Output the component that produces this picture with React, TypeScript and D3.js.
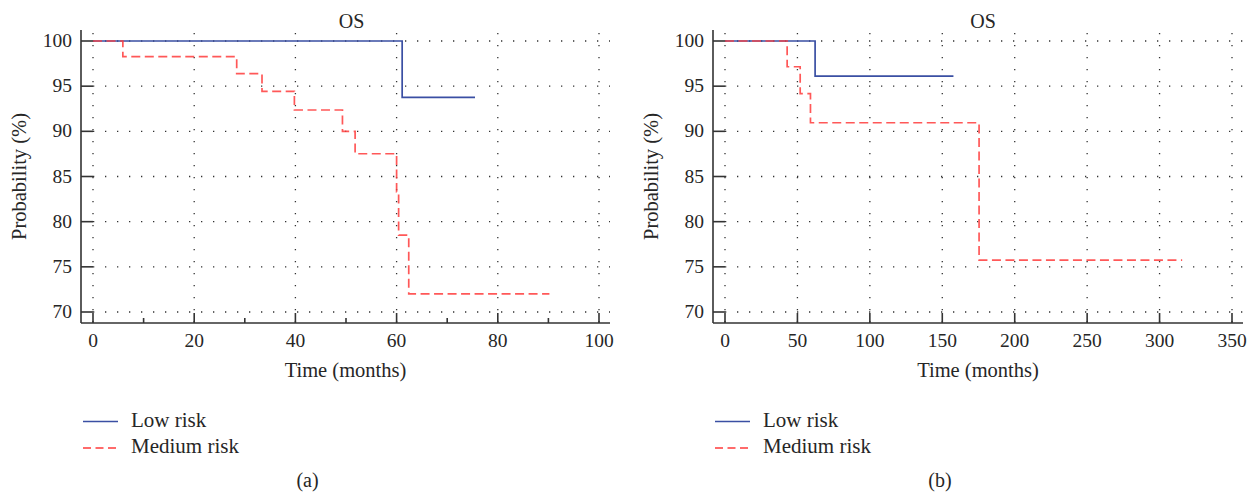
import React from "react";
import * as d3 from "d3";

// Panel (a)
const aLowTimes = [0, 61.1, 75.5];
const aLowValues = [100, 93.75, 93.75];
const aMedTimes = [0, 5.9, 28.4, 33.4, 39.8, 49.3, 51.8, 60.0, 60.4, 62.4, 90.2];
const aMedValues = [100, 98.26, 96.38, 94.43, 92.36, 90.0, 87.52, 83.3, 78.5, 72.0, 72.0];
const aXTicks = [0, 20, 40, 60, 80, 100];
const aXMinor = [10, 30, 50, 70, 90];

// Panel (b)
const bLowTimes = [0, 62.2, 157.7];
const bLowValues = [100, 96.12, 96.12];
const bMedTimes = [0, 42.9, 51.9, 59.0, 175.4, 315.6];
const bMedValues = [100, 97.15, 94.17, 90.95, 75.75, 75.75];
const bXTicks = [0, 50, 100, 150, 200, 250, 300, 350];
const bXMinor: number[] = [];

const yTicks = [70, 75, 80, 85, 90, 95, 100];
const seriesNames = ["Low risk", "Medium risk"];
const title = "OS";
const xLabel = "Time (months)";
const yLabel = "Probability (%)";

const FONT = "'Liberation Serif', 'Times New Roman', serif";
const BLUE = "#3a4fa3";
const RED = "#ff3b3b";
const INK = "#262626";

type PanelProps = {
  left: number;
  right: number;
  xMax: number;
  xTicks: number[];
  xMinor: number[];
  low: [number[], number[]];
  med: [number[], number[]];
  tag: string;
  titleDx: number;
};

function Panel({ left, right, xMax, xTicks, xMinor, low, med, tag, titleDx }: PanelProps) {
  const top = 30;
  const bottom = 323;
  const x = d3.scaleLinear().domain([0, xMax]).range([left + 12, right - 11]);
  const y = d3.scaleLinear().domain([70, 100]).range([bottom - 11, top + 11]);
  const line = d3
    .line<[number, number]>()
    .x((d) => x(d[0]))
    .y((d) => y(d[1]))
    .curve(d3.curveStepAfter);
  const toPts = (s: [number[], number[]]) => s[0].map((t, i) => [t, s[1][i]] as [number, number]);
  const cx = (left + right) / 2;
  const legX = left + 2;
  return (
    <g fontFamily={FONT} fill={INK}>
      {/* grid */}
      {yTicks.map((v) => (
        <line
          key={"gy" + v}
          x1={x(0)}
          x2={right}
          y1={y(v)}
          y2={y(v)}
          stroke="#333"
          strokeWidth={1.3}
          strokeDasharray="1.3 10.7"
        />
      ))}
      {xTicks.map((v) => (
        <line
          key={"gx" + v}
          x1={x(v)}
          x2={x(v)}
          y1={y(100) - 11}
          y2={bottom}
          stroke="#333"
          strokeWidth={1.3}
          strokeDasharray="1.3 10.7"
          strokeDashoffset={-3}
        />
      ))}
      {/* curves */}
      <path d={line(toPts(low)) || ""} fill="none" stroke={BLUE} strokeWidth={1.7} />
      <path
        d={line(toPts(med)) || ""}
        fill="none"
        stroke={RED}
        strokeWidth={1.7}
        strokeDasharray="9 4.5"
        opacity={0.85}
      />
      {/* axes */}
      <line x1={left} x2={left} y1={top} y2={bottom} stroke="#333" strokeWidth={1.6} />
      <line x1={left} x2={right} y1={bottom} y2={bottom} stroke="#333" strokeWidth={1.6} />
      {yTicks.map((v) => (
        <g key={"yt" + v}>
          <line x1={left} x2={left + 12} y1={y(v)} y2={y(v)} stroke="#333" strokeWidth={1.6} />
          <text x={left - 9} y={y(v) + 6} textAnchor="end" fontSize={19.5}>
            {v}
          </text>
        </g>
      ))}
      {xTicks.map((v) => (
        <g key={"xt" + v}>
          <line x1={x(v)} x2={x(v)} y1={bottom} y2={bottom - 10} stroke="#333" strokeWidth={1.6} />
          <text x={x(v)} y={346.5} textAnchor="middle" fontSize={19.5}>
            {v}
          </text>
        </g>
      ))}
      {xMinor.map((v) => (
        <line key={"xm" + v} x1={x(v)} x2={x(v)} y1={bottom} y2={bottom - 5} stroke="#333" strokeWidth={1.6} />
      ))}
      {/* labels */}
      <text x={cx + titleDx} y={28} textAnchor="middle" fontSize={20}>
        {title}
      </text>
      <text x={cx} y={377} textAnchor="middle" fontSize={20.5}>
        {xLabel}
      </text>
      <text
        transform={`translate(${left - 55},${(top + bottom) / 2}) rotate(-90)`}
        textAnchor="middle"
        fontSize={20.5}
      >
        {yLabel}
      </text>
      {/* legend */}
      <line x1={legX} x2={legX + 35} y1={421.5} y2={421.5} stroke={BLUE} strokeWidth={1.5} />
      <line
        x1={legX}
        x2={legX + 35}
        y1={448}
        y2={448}
        stroke={RED}
        strokeWidth={1.5}
        strokeDasharray="8 4.5"
      />
      <text x={legX + 48} y={426.5} fontSize={21}>
        {seriesNames[0]}
      </text>
      <text x={legX + 48} y={453} fontSize={21}>
        {seriesNames[1]}
      </text>
      <text x={cx - 38} y={487} textAnchor="middle" fontSize={20}>
        {tag}
      </text>
    </g>
  );
}

export default function App() {
  return (
    <svg
      width={1253}
      height={494}
      style={{ position: "absolute", left: 0, top: 0, background: "#fff" }}
    >
      <rect width={1253} height={494} fill="#fff" />
      <Panel
        left={81}
        right={610}
        xMax={100}
        xTicks={aXTicks}
        xMinor={aXMinor}
        low={[aLowTimes, aLowValues]}
        med={[aMedTimes, aMedValues]}
        tag="(a)"
        titleDx={6}
      />
      <Panel
        left={713}
        right={1243}
        xMax={350}
        xTicks={bXTicks}
        xMinor={bXMinor}
        low={[bLowTimes, bLowValues]}
        med={[bMedTimes, bMedValues]}
        tag="(b)"
        titleDx={5}
      />
    </svg>
  );
}
